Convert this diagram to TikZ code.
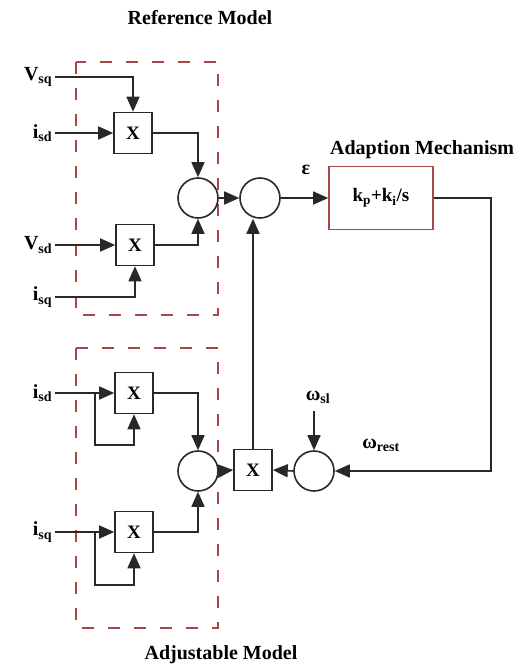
\documentclass[tikz,border=0pt]{standalone}
\usepackage{fontspec}
\setmainfont{Liberation Serif}
\usepackage{tikz}
\usetikzlibrary{arrows.meta,positioning,calc}
\definecolor{modelRed}{RGB}{168,72,72}
\definecolor{lineGray}{RGB}{40,40,40}

\begin{document}
\begin{tikzpicture}[x=1pt, y=-1pt, >={Triangle[length=15pt,width=13pt]}, line width=1.6pt, draw=lineGray,
    mult/.style={rectangle, draw, fill=white, minimum width=38pt, minimum height=41pt, inner sep=0pt, font=\fontsize{19}{20}\selectfont\bfseries},
    sumc/.style={circle, draw, fill=white, minimum size=40pt, inner sep=0pt},
    sig/.style={anchor=east, inner sep=2pt, font=\fontsize{20}{22}\selectfont\bfseries},
    title/.style={font=\fontsize{20}{22}\selectfont\bfseries},
    modelbox/.style={draw=modelRed, line width=2pt, dash pattern=on 12pt off 14pt}]
    \useasboundingbox (0,0) rectangle (523,672);

    % model boundaries
    \draw [modelbox] (76,62) rectangle (218,315);
    \draw [modelbox] (76,348) rectangle (218,628);
    \node [title] (reftitle) at (200,18) {Reference Model};
    \node [title] (adjtitle) at (221,655) {Adjustable Model};
    \node [title, anchor=west] (adaptitle) at (326,150) {Adaption Mechanism};

    % blocks
    \node [mult] (m1) at (133,133) {X};
    \node [mult] (m2) at (135,245) {X};
    \node [sumc] (c1) at (198,198) {};
    \node [sumc] (c2) at (260,198) {};
    \node [rectangle, draw=modelRed, line width=1.6pt, minimum width=104pt, minimum height=63pt, font=\fontsize{19}{20}\selectfont\bfseries] (pi) at (381,198) {k\textsubscript{p}+k\textsubscript{i}/s};
    \node [mult] (m4) at (134,393) {X};
    \node [mult] (m5) at (134,532) {X};
    \node [sumc] (c4) at (198,471) {};
    \node [mult] (m3) at (253,470) {X};
    \node [sumc] (c3) at (314,471) {};

    % signals
    \node [sig] (vsq) at (55,77) {V\textsubscript{sq}};
    \node [sig] (isd) at (55,133) {i\textsubscript{sd}};
    \node [sig] (vsd) at (55,245) {V\textsubscript{sd}};
    \node [sig] (isq) at (55,297) {i\textsubscript{sq}};
    \node [sig] (isdb) at (55,393) {i\textsubscript{sd}};
    \node [sig] (isqb) at (55,532) {i\textsubscript{sq}};
    \node [title] (eps) at (306,170) {ε};
    \node [title] (wsl) at (318,397) {ω\textsubscript{sl}};
    \node [title] (wrest) at (381,445) {ω\textsubscript{rest}};
    \coordinate (br1) at (95,393);
    \coordinate (br2) at (95,532);

    % reference model
    \draw [->] (vsq.east) -| (m1.north);
    \draw [->] (isd.east) -- (m1.west);
    \draw [->] (m1.east) -| (c1.north);
    \draw [->] (vsd.east) -- (m2.west);
    \draw [->] (isq.east) -| (m2.south);
    \draw [->] (m2.east) -| (c1.south);
    \draw [->] (c1.east) -- (c2.west);
    \draw [->] (c2.east) -- (pi.west);

    % adjustable model
    \draw [->] (isdb.east) -- (m4.west);
    \draw [->] (br1) -- ++(0,52) -| (m4.south);
    \draw [->] (m4.east) -| (c4.north);
    \draw [->] (isqb.east) -- (m5.west);
    \draw [->] (br2) -- ++(0,53) -| (m5.south);
    \draw [->] (m5.east) -| (c4.south);
    \draw [->] (c4.east) -- (m3.west);

    % adaption loop
    \draw [->] (pi.east) -- ++(57,0) |- (c3.east);
    \draw [->] (wsl.south -| c3.north) ++(0,4) -- (c3.north);
    \draw [->] (c3.west) -- (m3.east);
    \draw [->] (m3.north) -- (m3.north |- c2.south);
\end{tikzpicture}
\end{document}
